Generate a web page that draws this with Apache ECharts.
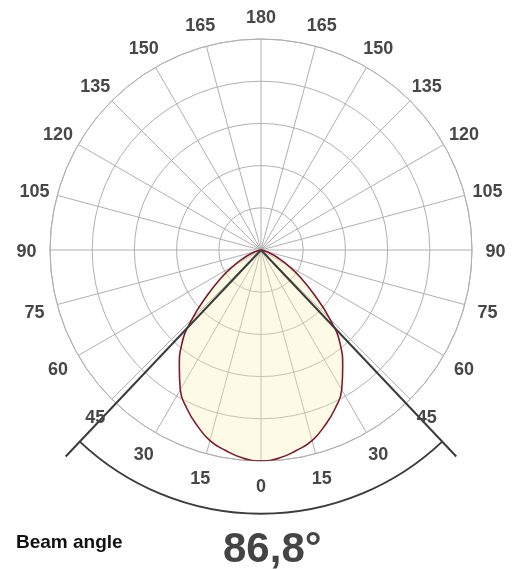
<!DOCTYPE html>
<html>
<head>
<meta charset="utf-8">
<script src="https://cdn.jsdelivr.net/npm/echarts@6/dist/echarts.min.js"></script>
<style>
html,body{margin:0;padding:0;background:#fff;}
#c{width:520px;height:569px;}
</style>
</head>
<body>
<div id="c"></div>
<script>
// Angles from nadir (degrees) and relative intensity
const angles    = [0, 5, 10, 15, 20, 25, 30, 35, 40, 45, 50, 55, 60, 65, 70, 75, 80];
const intensity = [1.00, 0.99, 0.965, 0.935, 0.885, 0.83, 0.765, 0.675, 0.585, 0.46, 0.33, 0.23, 0.15, 0.09, 0.045, 0.015, 0];
const beamAngle = 86.8;
const beamLabel = 'Beam angle';
const beamValueText = '86,8°';
const ringValues = [0.2, 0.4, 0.6, 0.8, 1.0];
// angle tick labels (shown on both sides of the nadir)
const tickAngles = [0, 15, 30, 45, 60, 75, 90, 105, 120, 135, 150, 165, 180];

// symmetric lobe: left (+) to right (-)
const lobe = [];
for (let i = angles.length - 1; i > 0; i--) lobe.push([intensity[i], angles[i]]);
for (let i = 0; i < angles.length; i++) lobe.push([intensity[i], -angles[i]]);

// tick label positions just outside the outer ring
const labelR = 1.111;
const tickLabelData = [];
tickAngles.forEach(a => {
  tickLabelData.push([labelR, a]);
  if (a !== 0 && a !== 180) tickLabelData.push([labelR, -a]);
});

const chart = echarts.init(document.getElementById('c'), null, {renderer: 'canvas'});
const grey = '#b0b0b0';
const font = '"Liberation Sans", Arial, sans-serif';

chart.setOption({
  animation: false,
  backgroundColor: '#fff',
  polar: {center: [261, 250], radius: 211},
  angleAxis: {
    type: 'value', min: -180, max: 180, interval: 15, startAngle: 90, clockwise: true,
    axisLine: {lineStyle: {color: grey, width: 1}},
    axisTick: {show: false},
    splitLine: {show: true, lineStyle: {color: grey, width: 1}},
    axisLabel: {show: false}
  },
  radiusAxis: {
    type: 'value', min: 0, max: ringValues[ringValues.length - 1], interval: 0.2,
    axisLine: {show: false}, axisTick: {show: false}, axisLabel: {show: false},
    splitLine: {show: true, lineStyle: {color: grey, width: 1}}
  },
  series: [
    {
      type: 'line', coordinateSystem: 'polar', data: lobe, smooth: 0.5,
      symbol: 'none', clip: false, z: 1,
      lineStyle: {color: '#801a2b', width: 1.6},
      areaStyle: {color: 'rgba(250,240,175,0.45)'}
    },
    {
      type: 'custom', coordinateSystem: 'polar', clip: false, z: 5,
      data: [[1.347, beamAngle / 2, 1.25]],
      renderItem: function (params, api) {
        const reach = api.value(0), half = api.value(1), arcR = api.value(2);
        const c = api.coord([0, 0]);
        const pL = api.coord([reach, half]);
        const pR = api.coord([reach, -half]);
        const aL = api.coord([arcR, half]);
        const aR = api.coord([arcR, -half]);
        const r = Math.hypot(aL[0] - c[0], aL[1] - c[1]);
        const sa = Math.atan2(aR[1] - c[1], aR[0] - c[0]);
        const ea = Math.atan2(aL[1] - c[1], aL[0] - c[0]);
        const st = {stroke: '#3c3c3c', lineWidth: 2, fill: null};
        return {
          type: 'group',
          children: [
            {type: 'line', shape: {x1: c[0], y1: c[1], x2: pL[0], y2: pL[1]}, style: st},
            {type: 'line', shape: {x1: c[0], y1: c[1], x2: pR[0], y2: pR[1]}, style: st},
            {type: 'arc', shape: {cx: c[0], cy: c[1], r: r, startAngle: sa, endAngle: ea, clockwise: true}, style: st}
          ]
        };
      }
    },
    {
      type: 'scatter', coordinateSystem: 'polar', clip: false, z: 6,
      data: tickLabelData, symbolSize: 2, itemStyle: {color: 'rgba(255,255,255,0)', opacity: 1},
      silent: true,
      label: {
        show: true, position: 'inside', offset: [0, 2.5],
        color: '#474747', fontSize: 18, fontWeight: 'bold', fontFamily: font,
        textBorderWidth: 0, textBorderColor: 'transparent',
        formatter: p => String(Math.abs(p.value[1]))
      }
    }
  ],
  graphic: [
    {type: 'text', left: 16, top: 533, style: {text: beamLabel, font: 'bold 19px ' + font, fill: '#111'}},
    {type: 'text', left: 223, top: 529, style: {text: beamValueText, font: 'bold 42px ' + font, fill: '#444'}}
  ]
});
</script>
</body>
</html>
